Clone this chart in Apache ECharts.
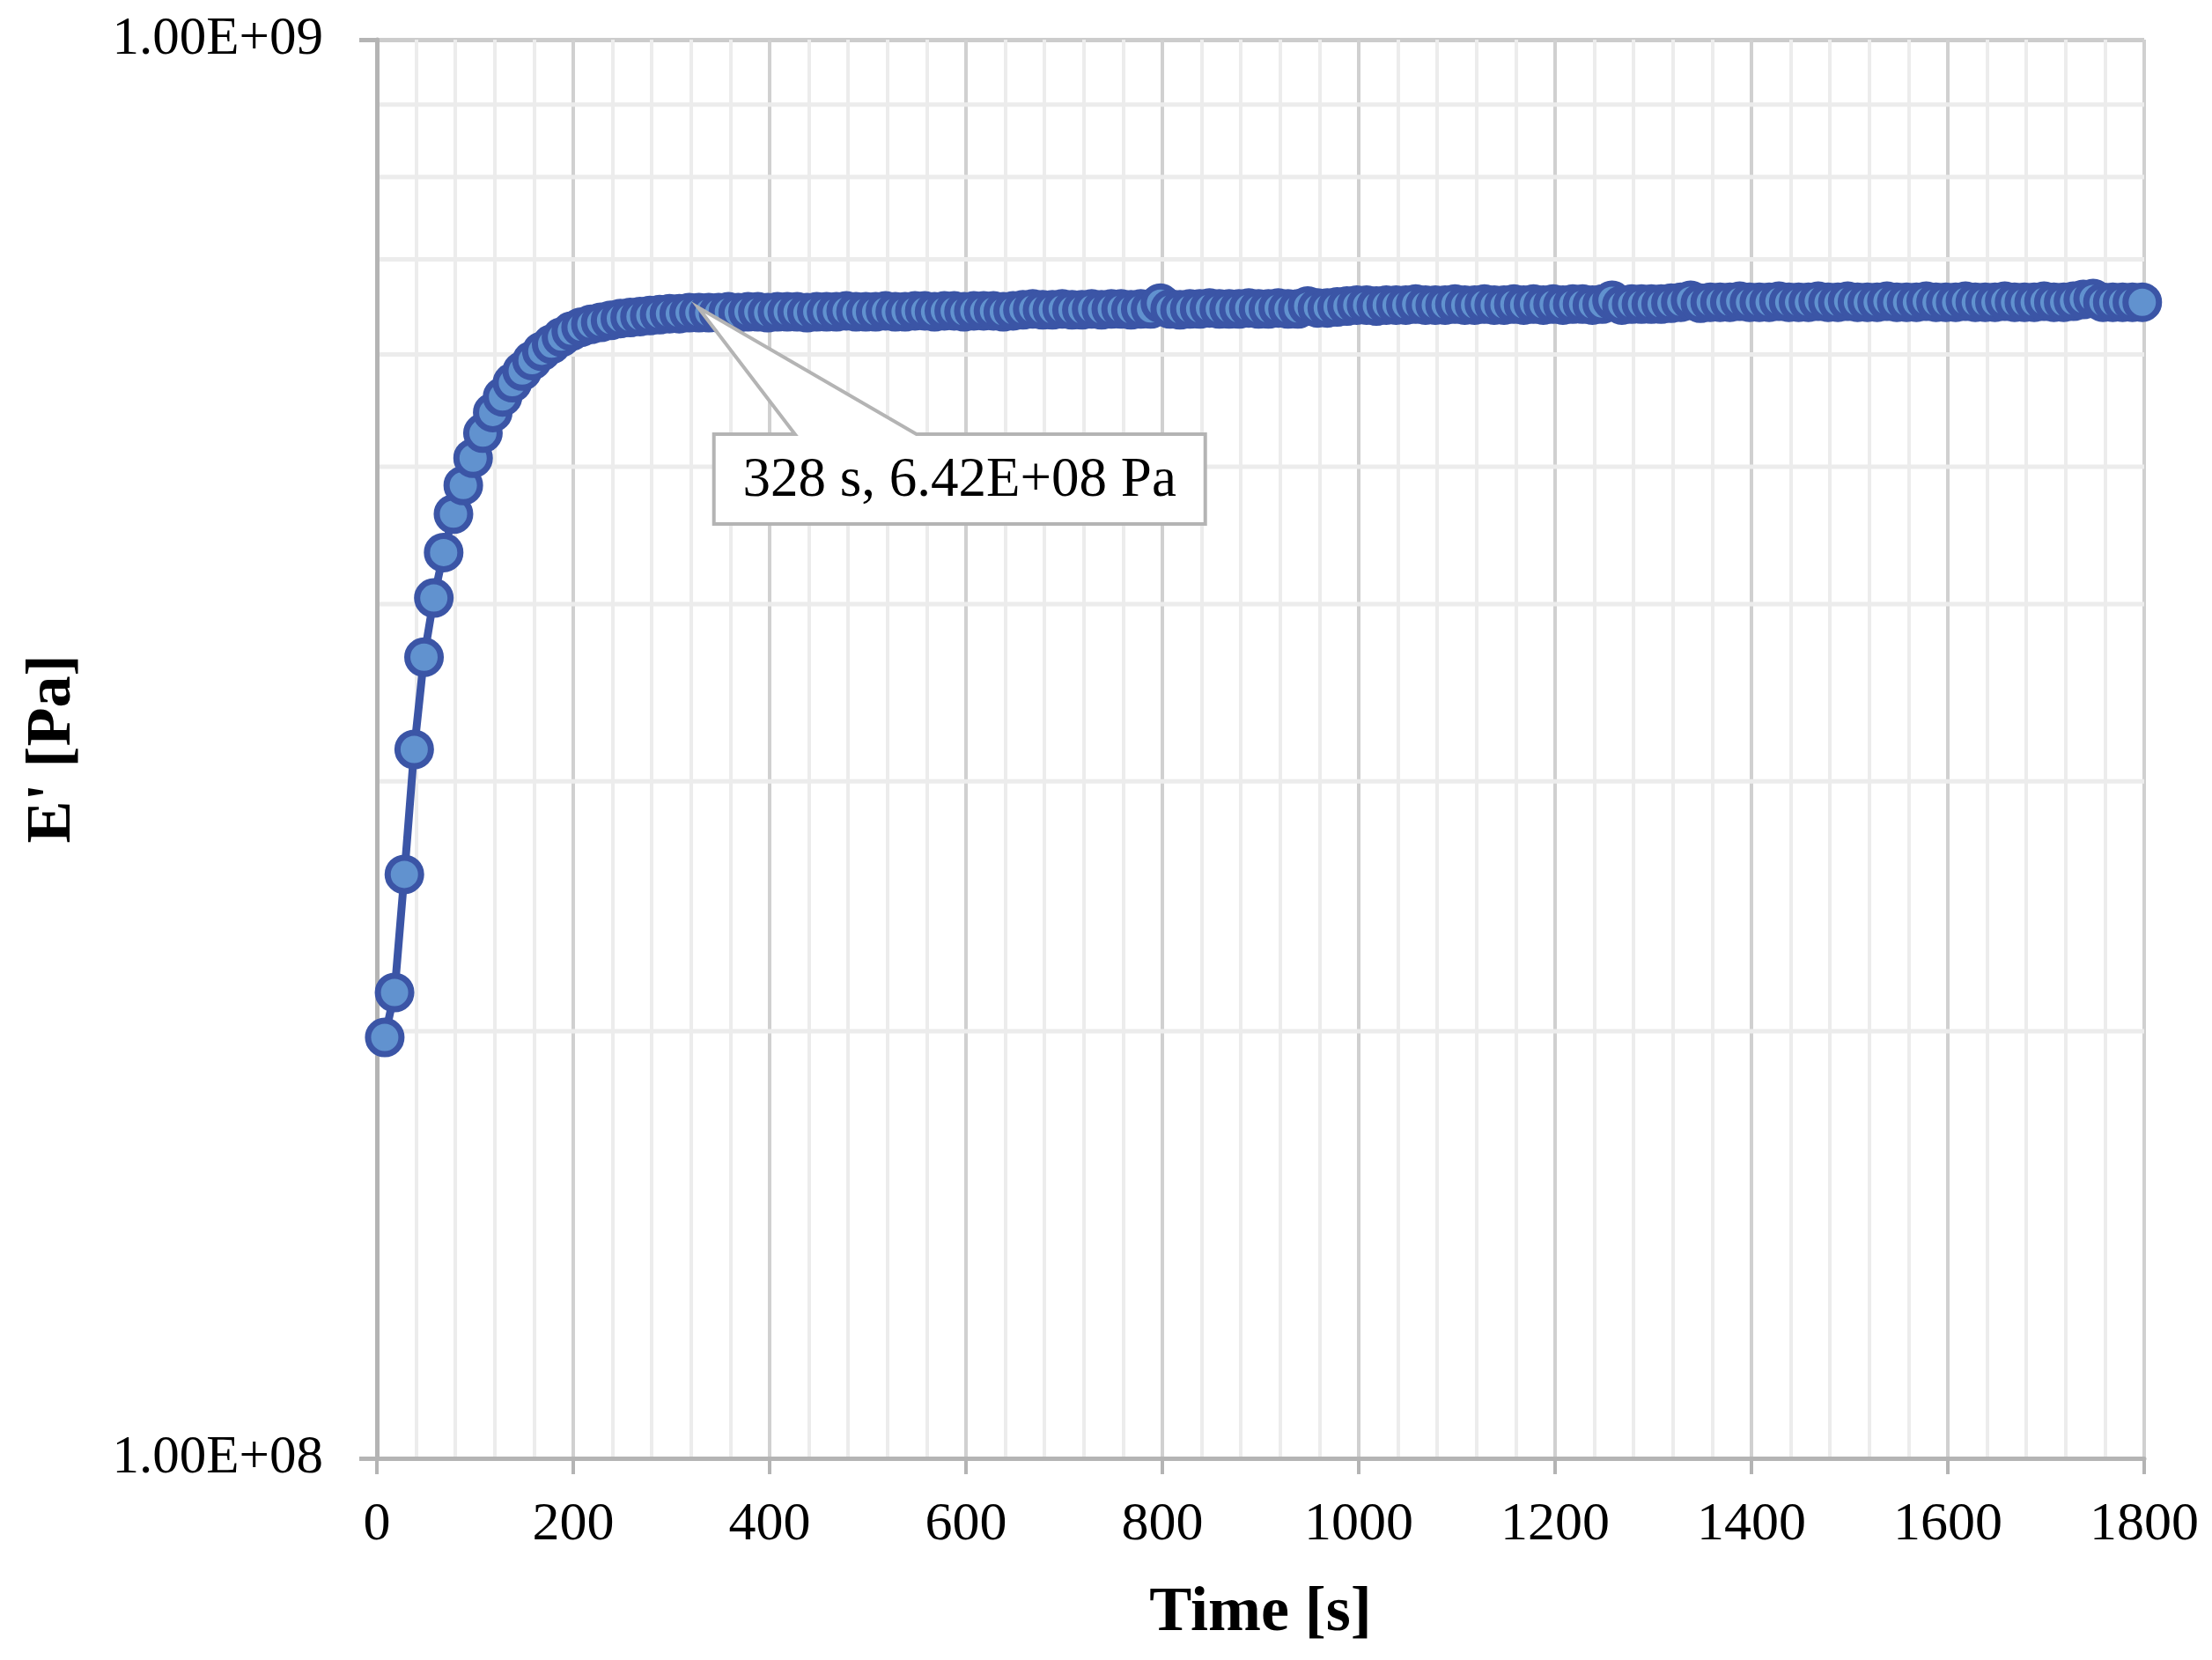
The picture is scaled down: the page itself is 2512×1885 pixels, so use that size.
<!DOCTYPE html>
<html>
<head>
<meta charset="utf-8">
<script src="https://cdn.jsdelivr.net/npm/echarts@6/dist/echarts.min.js"></script>
<style>
  html, body { margin: 0; padding: 0; background: #ffffff; }
  #main { width: 2512px; height: 1885px; }
</style>
</head>
<body>
<div id="main"></div>
<script>
// ---- Data ----
const timeS = [
  8, 18, 28, 38, 48, 58, 68, 78, 88, 98,
  108, 118, 128, 138, 148, 158, 168, 178, 188, 198,
  208, 218, 228, 238, 248, 258, 268, 278, 288, 298,
  308, 318, 328, 338, 348, 358, 368, 378, 388, 398,
  408, 418, 428, 438, 448, 458, 468, 478, 488, 498,
  508, 518, 528, 538, 548, 558, 568, 578, 588, 598,
  608, 618, 628, 638, 648, 658, 668, 678, 688, 698,
  708, 718, 728, 738, 748, 758, 768, 778, 788, 798,
  808, 818, 828, 838, 848, 858, 868, 878, 888, 898,
  908, 918, 928, 938, 948, 958, 968, 978, 988, 998,
  1008, 1018, 1028, 1038, 1048, 1058, 1068, 1078, 1088, 1098,
  1108, 1118, 1128, 1138, 1148, 1158, 1168, 1178, 1188, 1198,
  1208, 1218, 1228, 1238, 1248, 1258, 1268, 1278, 1288, 1298,
  1308, 1318, 1328, 1338, 1348, 1358, 1368, 1378, 1388, 1398,
  1408, 1418, 1428, 1438, 1448, 1458, 1468, 1478, 1488, 1498,
  1508, 1518, 1528, 1538, 1548, 1558, 1568, 1578, 1588, 1598,
  1608, 1618, 1628, 1638, 1648, 1658, 1668, 1678, 1688, 1698,
  1708, 1718, 1728, 1738, 1748, 1758, 1768, 1778, 1788, 1798
];

// Storage modulus E' in units of 1e8 Pa
const storageModulusE8 = [
  1.98, 2.13, 2.58, 3.16, 3.67, 4.04, 4.35, 4.63, 4.85, 5.07,
  5.28, 5.46, 5.60, 5.73, 5.84, 5.94, 6.03, 6.10, 6.17, 6.23,
  6.27, 6.30, 6.32, 6.34, 6.36, 6.37, 6.38, 6.39, 6.40, 6.41,
  6.41, 6.42, 6.42, 6.42, 6.42, 6.43, 6.42, 6.43, 6.43, 6.42,
  6.43, 6.43, 6.43, 6.42, 6.43, 6.43, 6.43, 6.44, 6.43, 6.43,
  6.43, 6.44, 6.43, 6.43, 6.44, 6.44, 6.43, 6.44, 6.44, 6.43,
  6.44, 6.44, 6.44, 6.43, 6.44, 6.45, 6.46, 6.45, 6.45, 6.46,
  6.45, 6.45, 6.46, 6.45, 6.46, 6.46, 6.45, 6.46, 6.46, 6.52,
  6.46, 6.45, 6.46, 6.46, 6.47, 6.46, 6.46, 6.46, 6.47, 6.46,
  6.46, 6.47, 6.46, 6.46, 6.49, 6.47, 6.47, 6.48, 6.49, 6.50,
  6.50, 6.49, 6.50, 6.50, 6.50, 6.51, 6.50, 6.50, 6.50, 6.51,
  6.50, 6.50, 6.51, 6.50, 6.50, 6.51, 6.50, 6.51, 6.50, 6.51,
  6.50, 6.51, 6.51, 6.50, 6.51, 6.55, 6.50, 6.51, 6.51, 6.51,
  6.51, 6.52, 6.53, 6.55, 6.52, 6.53, 6.53, 6.53, 6.54, 6.53,
  6.53, 6.53, 6.54, 6.53, 6.53, 6.53, 6.54, 6.53, 6.53, 6.54,
  6.53, 6.53, 6.53, 6.54, 6.53, 6.53, 6.53, 6.54, 6.53, 6.53,
  6.53, 6.54, 6.53, 6.53, 6.53, 6.54, 6.53, 6.53, 6.53, 6.54,
  6.53, 6.53, 6.54, 6.56, 6.57, 6.53, 6.53, 6.53, 6.53, 6.53
];

const xTickValues = [0, 200, 400, 600, 800, 1000, 1200, 1400, 1600, 1800];
const yMajorTicks = [1e8, 1e9];
const yMinorTicks = [2e8, 3e8, 4e8, 5e8, 6e8, 7e8, 8e8, 9e8];

const annotatedTime = 328;   // s
const xAxisTitle = 'Time [s]';
const yAxisTitle = "E' [Pa]";

// ---- helpers ----
function sci(v) {
  let e = Math.floor(Math.log10(v) + 1e-9);
  let m = v / Math.pow(10, e);
  if (Number(m.toFixed(2)) >= 10) { e += 1; m = v / Math.pow(10, e); }
  return m.toFixed(2) + 'E' + (e < 0 ? '-' : '+') + String(Math.abs(e)).padStart(2, '0');
}

const n = Math.min(timeS.length, storageModulusE8.length);
const seriesData = [];
for (let i = 0; i < n; i++) seriesData.push([timeS[i], storageModulusE8[i] * 1e8]);

const annIdx = timeS.indexOf(annotatedTime);
const annPoint = seriesData[annIdx];
const annText = annPoint[0] + ' s, ' + sci(annPoint[1]) + ' Pa';

const FONT = '"Liberation Serif", "Times New Roman", serif';
const DARK = '#3b55a6';
const LIGHT = '#6192cf';
const AXIS = '#b4b4b4';
const xMin = xTickValues[0];
const xMax = xTickValues[xTickValues.length - 1];

const chart = echarts.init(document.getElementById('main'), null, { renderer: 'canvas' });

chart.setOption({
  animation: false,
  backgroundColor: '#ffffff',
  grid: { left: 428, right: 77, top: 45, bottom: 229, containLabel: false },
  xAxis: {
    type: 'value',
    min: xMin,
    max: xMax,
    interval: xTickValues[1] - xTickValues[0],
    name: xAxisTitle,
    nameLocation: 'middle',
    nameGap: 140,
    nameTextStyle: { fontFamily: FONT, fontSize: 72, fontWeight: 'bold', color: '#000' },
    axisLine: { show: true, lineStyle: { color: AXIS, width: 5 } },
    axisTick: { show: true, inside: false, length: 18, lineStyle: { color: AXIS, width: 4 } },
    axisLabel: { fontFamily: FONT, fontSize: 62, color: '#000', margin: 45, formatter: v => String(v) },
    splitLine: { show: true, lineStyle: { color: '#d0d0d0', width: 4 } },
    minorTick: { show: false, splitNumber: 5 },
    minorSplitLine: { show: true, lineStyle: { color: '#ececec', width: 4 } }
  },
  yAxis: {
    type: 'log',
    logBase: 10,
    min: yMajorTicks[0],
    max: yMajorTicks[yMajorTicks.length - 1],
    name: yAxisTitle,
    nameLocation: 'middle',
    nameRotate: 90,
    nameGap: 332,
    nameTextStyle: { fontFamily: FONT, fontSize: 72, fontWeight: 'bold', color: '#000' },
    axisLine: { show: true, lineStyle: { color: AXIS, width: 5 } },
    axisTick: { show: true, inside: false, length: 20, lineStyle: { color: AXIS, width: 5 } },
    axisLabel: { fontFamily: FONT, fontSize: 61, color: '#000', margin: 61, formatter: sci },
    splitLine: { show: true, lineStyle: { color: '#cccccc', width: 5 } },
    minorTick: { show: false },
    minorSplitLine: { show: false }
  },
  series: [
    {
      // horizontal minor gridlines of the log axis (2e8 ... 9e8), under the data
      type: 'custom',
      z: 1,
      silent: true,
      clip: false,
      data: yMinorTicks.map(v => [v]),
      encode: { y: 0 },
      renderItem: function (params, api) {
        const v = api.value(0);
        const a = api.coord([xMin, v]);
        const b = api.coord([xMax, v]);
        return {
          type: 'line',
          shape: { x1: a[0] + 3, y1: a[1], x2: b[0], y2: b[1] },
          style: { stroke: '#ececec', lineWidth: 5 }
        };
      }
    },
    {
      name: "E'",
      type: 'line',
      z: 3,
      data: seriesData,
      showAllSymbol: true,
      symbol: 'circle',
      symbolSize: 38,
      lineStyle: { color: DARK, width: 9 },
      itemStyle: { color: LIGHT, borderColor: DARK, borderWidth: 7 }
    }
  ]
});

// Callout annotation anchored at the data point (positioned through the chart's scales)
const p = chart.convertToPixel({ xAxisIndex: 0, yAxisIndex: 0 }, annPoint);
const bx0 = p[0] + 17, bx1 = p[0] + 575, by0 = p[1] + 138, by1 = p[1] + 240;
const pb0 = p[0] + 109, pb1 = p[0] + 247;
chart.setOption({
  graphic: [
    {
      type: 'polygon',
      z: 100,
      silent: true,
      shape: {
        points: [[bx0, by0], [pb0, by0], [p[0] - 1, p[1] - 6], [pb1, by0], [bx1, by0], [bx1, by1], [bx0, by1]]
      },
      style: { fill: '#ffffff', stroke: AXIS, lineWidth: 4, lineJoin: 'miter' }
    },
    {
      type: 'text',
      z: 101,
      silent: true,
      x: (bx0 + bx1) / 2,
      y: (by0 + by1) / 2 + 2,
      style: {
        text: annText,
        fontFamily: FONT,
        fontSize: 63,
        fill: '#000',
        align: 'center',
        verticalAlign: 'middle'
      }
    }
  ]
});
</script>
</body>
</html>
